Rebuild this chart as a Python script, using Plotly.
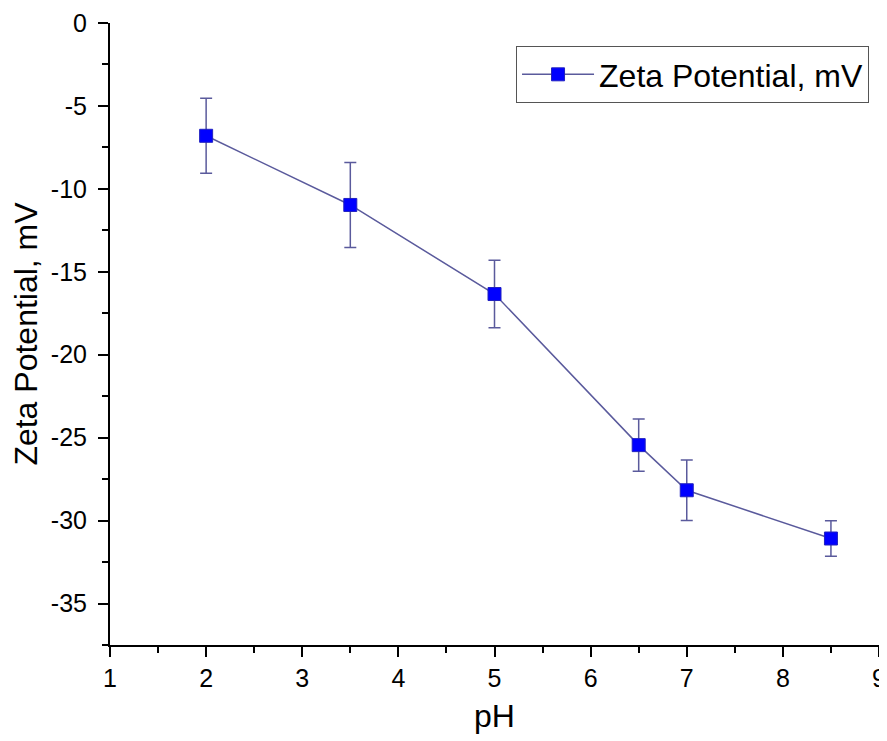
import plotly.graph_objects as go

ph = [2, 3.5, 5, 6.5, 7, 8.5]
zeta = [-6.8, -10.97, -16.34, -25.45, -28.17, -31.08]
zeta_err = [2.26, 2.56, 2.03, 1.57, 1.83, 1.07]

x_ticks = [1, 2, 3, 4, 5, 6, 7, 8, 9]
y_ticks = [0, -5, -10, -15, -20, -25, -30, -35]

line_color = "#5a5a9c"
font_family = "Liberation Sans, Arial, sans-serif"

fig = go.Figure()
fig.add_trace(go.Scatter(
    x=ph, y=zeta,
    mode="lines+markers",
    name="Zeta Potential, mV",
    line=dict(color=line_color, width=1.5),
    marker=dict(symbol="square", size=13, color="#0000ff",
                line=dict(color="#2020c0", width=1)),
    error_y=dict(type="data", array=zeta_err, visible=True,
                 color=line_color, thickness=1.5, width=6),
))

fig.update_layout(
    width=887, height=733,
    margin=dict(l=101.5, r=15.5, t=15.3, b=96),
    paper_bgcolor="white", plot_bgcolor="white",
    font=dict(family=font_family, color="black"),
    showlegend=True,
    legend=dict(
        x=0.528, y=0.963, xanchor="left", yanchor="top",
        bordercolor="#555555", borderwidth=1,
        font=dict(size=32, family=font_family, color="black"),
        itemwidth=72, bgcolor="white",
    ),
    xaxis=dict(
        range=[1, 9], tickvals=x_ticks, ticktext=[str(v) for v in x_ticks],
        showgrid=False, zeroline=False, automargin=False,
        showline=True, linecolor="black", linewidth=2,
        ticks="outside", ticklen=10, tickwidth=2, tickcolor="black",
        tickfont=dict(size=25, family=font_family, color="black"),
        ticklabeloverflow="allow",
        minor=dict(dtick=0.5, ticks="outside", ticklen=6, tickwidth=2, tickcolor="black", showgrid=False),
        title=dict(text="pH", font=dict(size=32, family=font_family), standoff=14),
    ),
    yaxis=dict(
        range=[-37.5, 0], tickvals=y_ticks, ticktext=[str(v) for v in y_ticks],
        showgrid=False, zeroline=False, automargin=False,
        showline=True, linecolor="black", linewidth=2,
        ticks="outside", ticklen=10, tickwidth=2, tickcolor="black",
        tickfont=dict(size=25, family=font_family, color="black"),
        ticklabelstandoff=6, ticklabeloverflow="allow",
        minor=dict(dtick=2.5, ticks="outside", ticklen=6, tickwidth=2, tickcolor="black", showgrid=False),
        title=dict(text="Zeta Potential, mV", font=dict(size=32, family=font_family), standoff=8),
    ),
)

fig.write_html("out.html")
